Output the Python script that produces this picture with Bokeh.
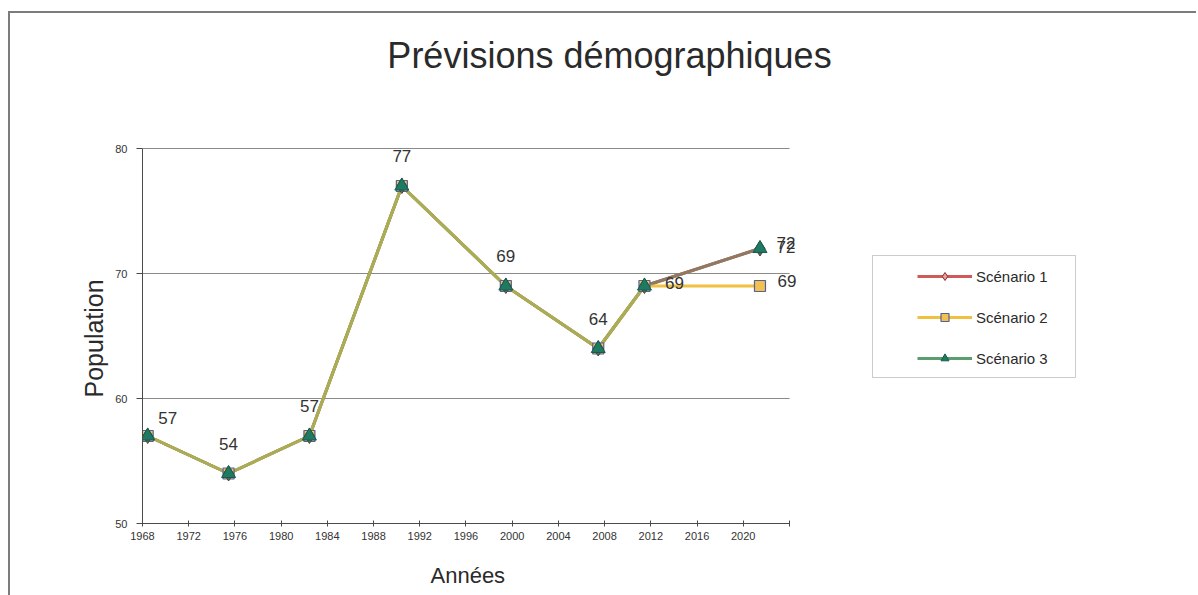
from bokeh.plotting import figure
from bokeh.models import (ColumnDataSource, LabelSet, Label, Legend, LegendItem, BoxAnnotation,
                          FixedTicker, CustomJSTickFormatter, Title)
from bokeh.core.properties import value
from bokeh.embed import file_html
from bokeh.resources import INLINE

# Census years and population (thousands)
years = [1968, 1975, 1982, 1990, 1999, 2007, 2011, 2021]
scenario_1 = [57, 54, 57, 77, 69, 64, 69, 72]
scenario_2 = [57, 54, 57, 77, 69, 64, 69, 69]
scenario_3 = [57, 54, 57, 77, 69, 64, 69, 72]
series_names = ["Scénario 1", "Scénario 2", "Scénario 3"]
year_ticks = [1968, 1972, 1976, 1980, 1984, 1988, 1992, 1996, 2000, 2004, 2008, 2012, 2016, 2020]
pop_ticks = [50, 60, 70, 80]

FONT = "Liberation Sans"
SHIFT = 0.45               # points sit a little right of the year gridline
X0, X1 = year_ticks[0] - SHIFT, 2024 - SHIFT   # drawn extent of the time axis
Y0, Y1 = pop_ticks[0], pop_ticks[-1]           # drawn extent of the value axis

# the frame runs on to the right and upwards so the legend, title and end labels have room
p = figure(width=1188, height=600, output_backend="svg", toolbar_location=None,
           x_range=(X0, 2057.4), y_range=(Y0, 90.8),
           min_border_left=132, min_border_right=18, min_border_top=0, min_border_bottom=90,
           background_fill_color="white", border_fill_color="white")
p.styles = {"border-left": "2px solid #7c7c7c", "border-top": "2px solid #7c7c7c",
            "margin-left": "8px", "margin-top": "11px"}
p.outline_line_color = None
p.title.text = ""
p.title.visible = False

src = ColumnDataSource(dict(x=years, s1=scenario_1, s2=scenario_2, s3=scenario_3))

# full-strength green kept underneath: it serves as the legend sample for scenario 3
g3 = p.line("x", "s3", source=src, line_color="#5a9e6e", line_width=3)
l1 = p.line("x", "s1", source=src, line_color="#cf5a5a", line_width=3)
l2 = p.line("x", "s2", source=src, line_color="#f0c040", line_width=3)
p.line("x", "s3", source=src, line_color="#4e9a6a", line_width=3, line_alpha=0.45)

# legend sample for scenario 1, hidden under the chart markers
k1 = p.scatter("x", "s1", source=src, marker="diamond", size=9,
               fill_color="#e8a0a0", line_color="#8b2a2a", line_width=1)
m2 = p.scatter("x", "s2", source=src, marker="square", size=11,
               fill_color="#f2c24e", line_color="#55609a", line_width=1.2)
p.scatter("x", "s1", source=src, marker="diamond", size=15,
          fill_color="#2b7d70", line_color="#6a3a34", line_width=1)
m3 = p.scatter("x", "s3", source=src, marker="triangle", size=14,
               fill_color="#1f7a62", line_color="#175a4c", line_width=1)

# Axes
p.xaxis.ticker = FixedTicker(ticks=[t - SHIFT for t in year_ticks] + [X1])
p.xaxis.formatter = CustomJSTickFormatter(code="return tick > 2021 ? '' : String(Math.round(tick));")
p.xaxis.bounds = (X0, X1)
p.yaxis.ticker = FixedTicker(ticks=pop_ticks)
p.yaxis.bounds = (Y0, Y1)
for ax in (p.xaxis[0], p.yaxis[0]):
    ax.axis_line_color = "#4a4a4a"
    ax.major_tick_line_color = "#4a4a4a"
    ax.minor_tick_line_color = None
    ax.major_label_text_font = FONT
    ax.major_label_text_font_size = "11px"
    ax.major_label_text_color = "#333333"
p.xaxis.major_tick_in = 3
p.xaxis.major_tick_out = 3
p.yaxis.major_tick_in = 0
p.yaxis.major_tick_out = 6
p.yaxis.major_label_standoff = 9
p.xgrid.grid_line_color = None
p.ygrid.grid_line_color = "#8a8a8a"
p.ygrid.grid_line_width = 1
p.ygrid.cross_bounds = (X0, X1)

# axis titles
p.add_layout(Title(text="Années", align="left", offset=288, standoff=36,
                   text_font=FONT, text_font_size="22px", text_font_style="normal",
                   text_color="#2a2a2a"), "below")
p.add_layout(Title(text="Population", align="left", offset=126, standoff=10,
                   text_font=FONT, text_font_size="25px", text_font_style="normal",
                   text_color="#2a2a2a"), "left")

# chart title
p.add_layout(Label(x=467, y=468, x_units="screen", y_units="screen",
                   text="Prévisions démographiques", text_align="center", text_baseline="middle",
                   text_font=FONT, text_font_size="36px", text_color="#2a2a2a"))

# Value labels
lab3 = ColumnDataSource(dict(x=years, y=scenario_3, t=[str(v) for v in scenario_3],
                             dx=[20, 0, 0, 0, 0, 0, 30, 26], dy=[18, 30, 30, 30, 30, 30, 3, 2]))
lab_end = ColumnDataSource(dict(x=[years[-1], years[-1]], y=[scenario_1[-1], scenario_2[-1]],
                                t=[str(scenario_1[-1]), str(scenario_2[-1])],
                                dx=[26, 27], dy=[6, 5]))
for s in (lab3, lab_end):
    p.add_layout(LabelSet(x="x", y="y", text="t", source=s, x_offset="dx", y_offset="dy",
                          text_align="center", text_baseline="middle",
                          text_font=value(FONT), text_font_size=value("17px"),
                          text_color="#333333"))

# Legend box and entries
p.add_layout(BoxAnnotation(left=730, right=933, bottom=146, top=268,
                           left_units="screen", right_units="screen",
                           bottom_units="screen", top_units="screen",
                           fill_color=None, line_color="#555555", line_width=1))
legend = Legend(items=[LegendItem(label=series_names[0], renderers=[l1, k1]),
                       LegendItem(label=series_names[1], renderers=[l2, m2]),
                       LegendItem(label=series_names[2], renderers=[g3, m3])],
                location=(775, 155), padding=0, margin=0, spacing=21,
                glyph_width=55, glyph_height=20, label_height=20, label_standoff=4,
                label_text_font=FONT, label_text_font_size="15px", label_text_color="#2a2a2a",
                border_line_color=None, background_fill_alpha=0)
p.add_layout(legend, "center")

open("out.html", "w").write(file_html(p, INLINE))
